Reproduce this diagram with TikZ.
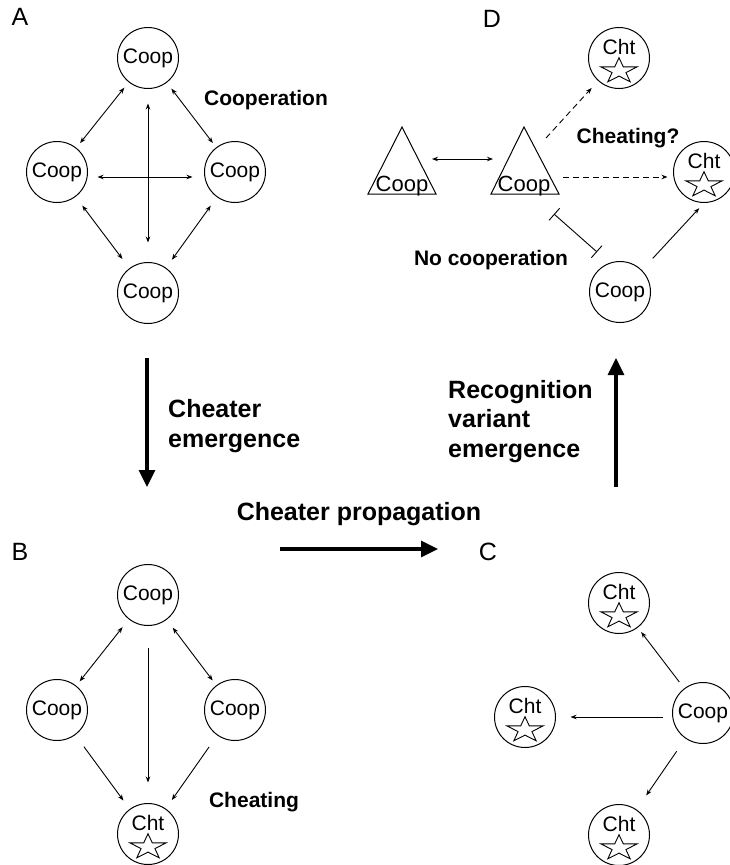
\documentclass[tikz,border=0pt]{standalone}
\usepackage{fontspec}
\setmainfont{Liberation Sans}
\usetikzlibrary{arrows.meta,calc}
\tikzset{pics/starmark/.style={code={\draw[line width=0.9pt, yscale=0.7, line join=miter] (90:19pt) -- (126:7.3pt) -- (162:19pt) -- (198:7.3pt) -- (234:19pt) -- (270:7.3pt) -- (306:19pt) -- (342:7.3pt) -- (18:19pt) -- (54:7.3pt) -- cycle;}}}
\begin{document}
\begin{tikzpicture}[x=1pt,y=-1pt,
  cell/.style={draw, circle, minimum size=61pt, inner sep=0pt, line width=1pt, font=\fontsize{21}{25}\selectfont},
  chtlbl/.style={font=\fontsize{21}{25}\selectfont, anchor=base, inner sep=0pt},
  lbl/.style={font=\fontsize{21}{25}\selectfont\bfseries, inner sep=0pt, anchor=base},
  biglbl/.style={font=\fontsize{25}{29.5}\selectfont\bfseries, inner sep=0pt, align=left},
  panel/.style={font=\fontsize{25}{30}\selectfont, anchor=base, inner sep=0pt},
  tritxt/.style={font=\fontsize{22}{26}\selectfont, anchor=base, inner sep=0pt},
  ar/.style={line width=0.9pt, -{Stealth[length=6pt,width=4.5pt]}},
  dar/.style={line width=0.9pt, {Stealth[length=6pt,width=4.5pt]}-{Stealth[length=6pt,width=4.5pt]}},
  bigar/.style={line width=3.2pt, -{Triangle[length=17pt,width=16pt]}},
  dsh/.style={dash pattern=on 6pt off 4pt},
  trimark/.style={line width=1pt, line join=miter}
]
\useasboundingbox (0,0) rectangle (729,865);

% ---------- Panel A ----------
\node[panel] (labA) at (20,25) {A};
\node[cell] (aT) at (148,58) {Coop};
\node[cell] (aL) at (57,172) {Coop};
\node[cell] (aR) at (235,172) {Coop};
\node[cell] (aB) at (148,293) {Coop};
\node[lbl] (coopTxt) at (266,105) {Cooperation};
\draw[dar, shorten <=7pt, shorten >=6pt] (aT) -- (aL);
\draw[dar, shorten <=7.5pt, shorten >=5.5pt] (aT) -- (aR);
\draw[dar, shorten <=11pt, shorten >=11.5pt] (aL) -- (aB);
\draw[dar, shorten <=10.5pt, shorten >=10pt] (aR) -- (aB);
\draw[dar, shorten <=14.5pt, shorten >=19.5pt] (aT) -- (aB);
\draw[dar, shorten <=9.5pt, shorten >=11.5pt] ([yshift=-5pt]aL.east) -- ([yshift=-5pt]aR.west);

% ---------- Panel B ----------
\node[panel] (labB) at (20,560) {B};
\node[cell] (bT) at (148,595) {Coop};
\node[cell] (bL) at (57,710) {Coop};
\node[cell] (bR) at (235,710) {Coop};
\node[cell] (bB) at (148,834) {};
\node[chtlbl] (bBt) at ([yshift=3.5pt]bB.center) {Cht};
\pic at ([yshift=-13pt]bB.center) {starmark};
\node[lbl] (cheatTxt) at (254,807) {Cheating};
\draw[dar, shorten <=10pt, shorten >=5.5pt] (bT) -- (bL);
\draw[dar, shorten <=10pt, shorten >=6pt] (bT) -- (bR);
\draw[ar, shorten <=21.5pt, shorten >=20.5pt] (bT) -- (bB);
\draw[ar, shorten <=14.5pt, shorten >=10.5pt] (bL) -- (bB);
\draw[ar, shorten <=14pt, shorten >=10.5pt] (bR) -- (bB);

% ---------- Panel C ----------
\node[panel] (labC) at (488,560) {C};
\node[cell] (cT) at (619,603) {};
\node[chtlbl] (cTt) at ([yshift=3.5pt]cT.center) {Cht};
\pic at ([yshift=-13pt]cT.center) {starmark};
\node[cell] (cL) at (525,717) {};
\node[chtlbl] (cLt) at ([yshift=3.5pt]cL.center) {Cht};
\pic at ([yshift=-13pt]cL.center) {starmark};
\node[cell] (cR) at (703,713) {Coop};
\node[cell] (cB) at (619,835) {};
\node[chtlbl] (cBt) at ([yshift=3.5pt]cB.center) {Cht};
\pic at ([yshift=-13pt]cB.center) {starmark};
\draw[ar, shorten <=8pt, shorten >=5.5pt] (cR) -- (cT);
\draw[ar, shorten <=9.5pt, shorten >=14.5pt] (cR.west |- cL) -- (cL);
\draw[ar, shorten <=15.5pt, shorten >=17pt] (cR) -- (cB);

% ---------- Panel D ----------
\node[panel] (labD) at (492,27) {D};
\node[cell] (dT) at (619,58) {};
\node[chtlbl] (dTt) at ([yshift=3.5pt]dT.center) {Cht};
\pic at ([yshift=-13pt]dT.center) {starmark};
\node[cell] (dR) at (704,172) {};
\node[chtlbl] (dRt) at ([yshift=3.5pt]dR.center) {Cht};
\pic at ([yshift=-13pt]dR.center) {starmark};
\node[cell] (dC) at (620,292) {Coop};
\draw[trimark] (402,127) -- (368,194) -- (436,194) -- cycle;
\draw[trimark] (524,127) -- (491,194) -- (559,194) -- cycle;
\node[tritxt] (t1) at (402,191) {Coop};
\node[tritxt] (t2) at (524,191) {Coop};
\coordinate (t1e) at (432,159);
\coordinate (t2w) at (493,159);
\coordinate (t2ne) at (546,138);
\coordinate (t2e) at (563,177);
\coordinate (barA) at (554,214);
\coordinate (barB) at (597,252);
\draw[dar] (t1e) -- (t2w);
\draw[ar, dsh, shorten >=9.5pt] (t2ne) -- (dT);
\draw[ar, dsh, shorten >=5.5pt] (t2e) -- ([yshift=-5pt]dR.west);
\draw[line width=0.9pt, {Bar[width=16pt]}-{Bar[width=16pt]}] (barA) -- (barB);
\draw[ar, shorten <=16pt, shorten >=7pt] (dC.45) -- (dR.south);
\node[lbl] (cheatQ) at (628,143) {Cheating?};
\node[lbl] (noCoop) at (491,265) {No cooperation};

% ---------- Transitions ----------
\coordinate (emS) at (147,358);
\coordinate (emE) at (147,487);
\coordinate (prS) at (280,549);
\coordinate (prE) at (438,549);
\coordinate (rvS) at (616,487);
\coordinate (rvE) at (616,358);
\draw[bigar] (emS) -- (emE);
\draw[bigar] (prS) -- (prE);
\draw[bigar] (rvS) -- (rvE);
\node[biglbl, anchor=base west] (emTxt) at (168,447) {Cheater\\emergence};
\node[biglbl, anchor=base west] (rvTxt) at (448,457) {Recognition\\variant\\emergence};
\node[biglbl, anchor=base] (prTxt) at (359,520) {Cheater propagation};
\end{tikzpicture}
\end{document}
